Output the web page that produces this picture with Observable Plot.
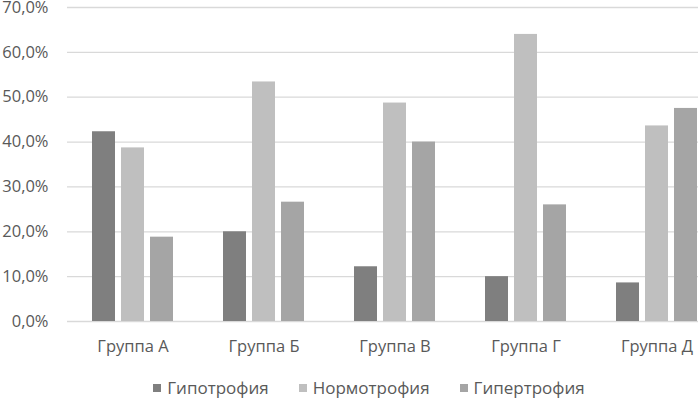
<!DOCTYPE html>
<html>
<head>
<meta charset="utf-8">
<script src="https://cdn.jsdelivr.net/npm/d3@7"></script>
<script src="https://cdn.jsdelivr.net/npm/@observablehq/plot@0.6"></script>
<style>
  html, body { margin: 0; padding: 0; background: #fff; overflow: hidden; }
  #legend { width: 698px; display: flex; justify-content: center; font-family: "Open Sans", sans-serif; font-size: 17px; color: #595959; margin-top: 16px; padding-left: 40px; box-sizing: border-box; }
  #legend .item { display: flex; align-items: center; margin: 0 15px; }
  #legend .sw { width: 8px; height: 8px; margin-right: 6px; }
</style>
</head>
<body>
<div id="chart"></div>
<div id="legend"></div>
<script>
const groups = ["Группа А", "Группа Б", "Группа В", "Группа Г", "Группа Д"];
const series = ["Гипотрофия", "Нормотрофия", "Гипертрофия"];
const hypo  = [42.3, 20.0, 12.2, 10.0, 8.6];
const normo = [38.7, 53.4, 48.7, 64.0, 43.6];
const hyper = [18.8, 26.6, 40.0, 26.0, 47.5];
const yTicks = [0, 10, 20, 30, 40, 50, 60, 70];
const colors = ["#7f7f7f", "#bfbfbf", "#a5a5a5"];

const seriesValues = [hypo, normo, hyper];
const rows = groups.flatMap((g, i) => series.map((s, j) => ({group: g, series: s, value: seriesValues[j][i]})));

const chart = Plot.plot({
  width: 698,
  height: 360,
  marginTop: 7,
  marginBottom: 39,
  marginLeft: 67,
  marginRight: 0,
  style: {fontFamily: "'Open Sans', sans-serif", fontSize: "16.5px", color: "#595959", background: "#fff"},
  fx: {domain: groups, range: [67, 722], padding: 0, label: null},
  x: {domain: series, paddingInner: 0.22, paddingOuter: 0.83, axis: null},
  y: {domain: [0, 70], label: null},
  color: {domain: series, range: colors},
  marks: [
    Plot.ruleY(yTicks, {stroke: "#d9d9d9", strokeWidth: 1.3}),
    Plot.barY(rows, {fx: "group", x: "series", y: "value", fill: "series"}),
    Plot.axisY({ticks: yTicks, tickSize: 0, tickPadding: 19, label: null, tickFormat: d => d.toFixed(1).replace(".", ",") + "%"}),
    Plot.axisFx({anchor: "bottom", tickSize: 0, tickPadding: 19, label: null})
  ]
});
document.getElementById("chart").appendChild(chart);

const legend = document.getElementById("legend");
series.forEach((s, i) => {
  const item = document.createElement("div");
  item.className = "item";
  const sw = document.createElement("span");
  sw.className = "sw";
  sw.style.background = colors[i];
  item.appendChild(sw);
  const t = document.createElement("span");
  t.textContent = s;
  item.appendChild(t);
  legend.appendChild(item);
});
</script>
</body>
</html>
